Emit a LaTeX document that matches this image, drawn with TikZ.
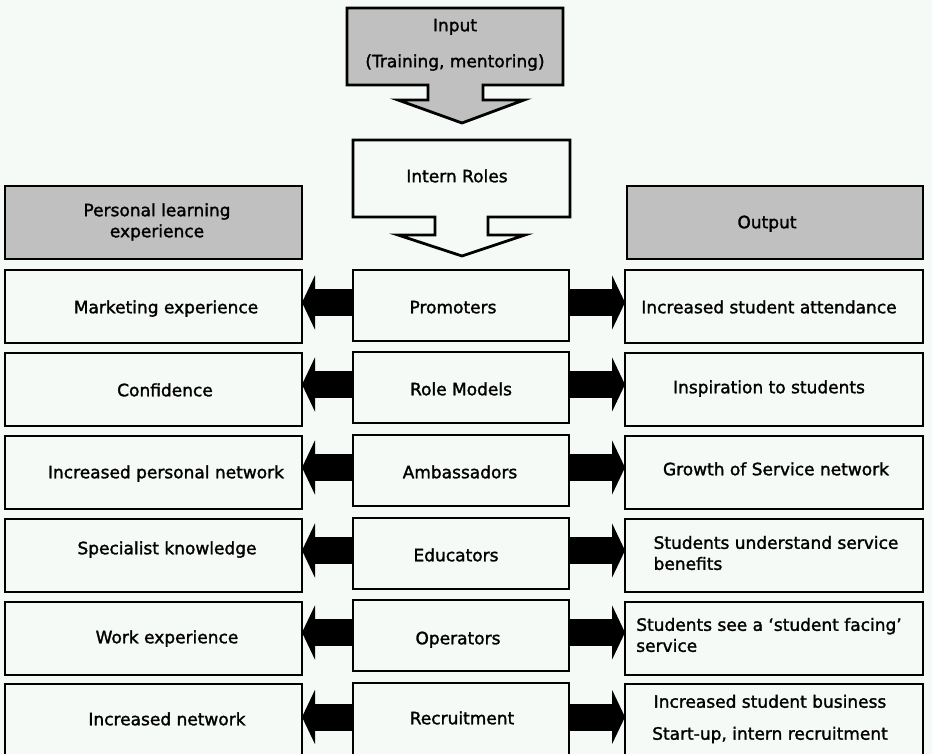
\documentclass[tikz,border=0pt]{standalone}
\usepackage{fontspec}
\setmainfont{DejaVu Sans}
\newfontface\pf{DejaVu Sans}[FakeBold=1.6]
\usetikzlibrary{calc,arrows.meta}
\definecolor{bgc}{HTML}{F6FAF6}
\definecolor{hdr}{HTML}{C0C0C0}
\begin{document}
\begin{tikzpicture}[x=1pt,y=-1pt,
  box/.style={draw=black,line width=2.8pt,fill=bgc,inner sep=0pt,outer sep=0pt},
  hbox/.style={box,fill=hdr},
  callout/.style={draw=black,line width=2.8pt,line join=miter},
  txt/.style={font=\pf\fontsize{17}{21}\selectfont,inner sep=0pt,align=center,text height=12pt,text depth=3.5pt},
  mtxt/.style={font=\pf\fontsize{17}{21}\selectfont,inner sep=0pt},
  blk/.style={line width=27pt,draw=black,-{Triangle[length=13pt,width=54pt]}}
]
\useasboundingbox (0,0) rectangle (932,754);
\clip (0,0) rectangle (932,754);
\fill[bgc] (0,0) rectangle (932,754);

% input callout
\draw[callout,fill=hdr] (347,8) -- (563,8) -- (563,85) -- (483,85) -- (483,100) -- (524,100)
  -- (462,123) -- (398,100) -- (428,100) -- (428,85) -- (347,85) -- cycle;
\node[txt] (inp1) at (455,27) {Input};
\node[txt] (inp2) at (455,63) {(Training, mentoring)};

% intern roles callout
\draw[callout,fill=bgc] (353,140) -- (570,140) -- (570,217) -- (488,217) -- (488,235) -- (525,235)
  -- (462,256) -- (398,235) -- (435,235) -- (435,217) -- (353,217) -- cycle;
\node[txt] (roles) at (457,178) {Intern Roles};

% headers
\node[hbox,minimum width=297pt,minimum height=73pt,anchor=north west] (hl) at (5,186) {};
\node[hbox,minimum width=296pt,minimum height=73pt,anchor=north west] (hr) at (627,186) {};
\node[mtxt,align=center] (hlt) at (157,222) {Personal learning\\experience};
\node[txt] (hrt) at (767,224) {Output};

% rows
\foreach \i/\t/\mt/\h/\mh in {1/270/270/73/71, 2/353/352/73/71, 3/436/435/73/71, 4/519/518/73/71, 5/602/600/73/71, 6/684/683/74/74} {
  \node[box,minimum width=297pt,minimum height=\h pt,anchor=north west] (l\i) at (5,\t) {};
  \node[box,minimum width=216pt,minimum height=\mh pt,anchor=north west] (m\i) at (353,\mt) {};
  \node[box,minimum width=298pt,minimum height=\h pt,anchor=north west] (r\i) at (625,\t) {};
}
\foreach \i in {1,...,6} {
  \path ($(m\i.west)+(0,-3)$) coordinate (al\i);
  \draw[blk] (al\i) -- (al\i -| l\i.east);
  \path ($(m\i.east)+(0,-3)$) coordinate (ar\i);
  \draw[blk] (ar\i) -- (ar\i -| r\i.west);
}

% left texts
\node[txt] (tl1) at (166,309) {Marketing experience};
\node[txt] (tl2) at (165,392) {Confidence};
\node[txt] (tl3) at (166,474) {Increased personal network};
\node[txt] (tl4) at (167,550) {Specialist knowledge};
\node[txt] (tl5) at (167,639) {Work experience};
\node[txt] (tl6) at (167,721) {Increased network};
% middle texts
\node[txt] (tm1) at (453,309) {Promoters};
\node[txt] (tm2) at (461,391) {Role Models};
\node[txt] (tm3) at (460,474) {Ambassadors};
\node[txt] (tm4) at (456,557) {Educators};
\node[txt] (tm5) at (458,640) {Operators};
\node[txt] (tm6) at (462,720) {Recruitment};
% right texts
\node[txt] (tr1) at (769,309) {Increased student attendance};
\node[txt] (tr2) at (769,389) {Inspiration to students};
\node[txt] (tr3) at (776,471) {Growth of Service network};
\node[mtxt,align=left] (tr4) at (776,553) {Students understand service\\benefits};
\node[mtxt,align=left] (tr5) at (769,635) {Students see a ‘student facing’\\service};
\node[mtxt,align=center] (tr6) at (770,719) {Increased student business\\[11pt]Start-up, intern recruitment};
\end{tikzpicture}
\end{document}
